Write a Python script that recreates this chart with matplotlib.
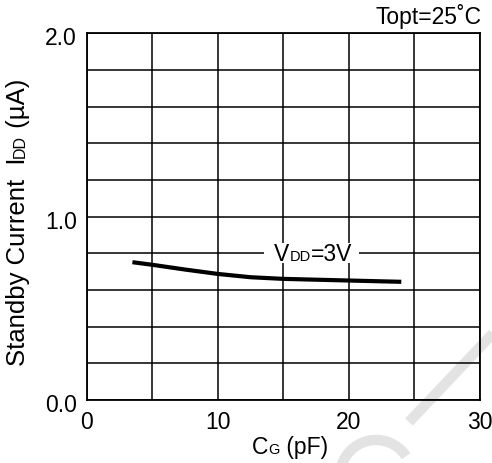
import numpy as np
import matplotlib
matplotlib.use("Agg")
import matplotlib.pyplot as plt
import matplotlib.transforms as mtransforms
from matplotlib.lines import Line2D
from matplotlib.patches import Arc

plt.rcParams['font.family'] = ['Liberation Sans', 'DejaVu Sans']

# data
cg_pf = [3.5, 5, 7.5, 10, 12.5, 15, 20, 24]
idd_ua = [0.752, 0.738, 0.712, 0.688, 0.670, 0.661, 0.652, 0.645]
x_ticks = [0, 10, 20, 30]
y_ticks = [0.0, 1.0, 2.0]

W, H = 492, 463
FS = 16.5
SUB = 10.5

fig = plt.figure(figsize=(W / 100, H / 100), dpi=100)
ax = fig.add_axes([86.5 / W, 1 - 400 / H, 393.5 / W, 366.5 / H])

ax.set_xlim(0, 30)
ax.set_ylim(0, 2.0)
xgrid = np.arange(0, 31, 5)
ygrid = np.arange(0, 2.01, 0.2)
ax.set_xticks(xgrid)
ax.set_yticks(ygrid)
ax.grid(True, color='black', linewidth=1.1, zorder=1)
ax.set_axisbelow(True)
ax.tick_params(length=0, labelsize=FS)
ax.set_xticklabels([str(t) if t in x_ticks else '' for t in xgrid])
ax.set_yticklabels([f'{t:.1f}' if round(t, 1) in y_ticks else '' for t in ygrid])
ax.tick_params(axis='x', pad=8)
ax.tick_params(axis='y', pad=7)
shift = mtransforms.ScaledTranslation(0, -3 / 100, fig.dpi_scale_trans)
for lbl in ax.get_yticklabels():
    lbl.set_transform(lbl.get_transform() + shift)
for sp in ax.spines.values():
    sp.set_linewidth(1.3)

ax.plot(cg_pf, idd_ua, color='black', linewidth=3.0, zorder=3,
        solid_capstyle='butt')


def chain(pieces, x, y, coords, vertical=False):
    prev = None
    for s, size in pieces:
        if prev is None:
            t = ax.text(x, y, s, transform=coords, fontsize=size,
                        rotation=90 if vertical else 0,
                        rotation_mode='anchor', ha='left', va='baseline',
                        zorder=5)
        elif vertical:
            t = ax.annotate(s, xy=(x, 1), xycoords=(coords, prev),
                            fontsize=size, rotation=90, rotation_mode='anchor',
                            ha='left', va='baseline', zorder=5)
        else:
            t = ax.annotate(s, xy=(1, y), xycoords=(prev, coords),
                            fontsize=size, ha='left', va='baseline', zorder=5)
        prev = t
    return prev


# axis labels with small-caps style subscripts on the baseline
chain([('C', FS), ('G', SUB), (' (pF)', FS)], 0.4206, -0.147, ax.transAxes)
chain([('Standby Current  I', 18.5), ('DD', 11.5), (' (\u00b5A)', 18.5)],
      -0.156, 0.092, ax.transAxes, vertical=True)

# curve label with white background over the grid
bg = plt.Rectangle((13.5, 0.745), 7.3, 0.11, facecolor='white',
                   edgecolor='none', zorder=2)
ax.add_patch(bg)
chain([('V', FS), ('DD', SUB), ('=3V', FS)], 14.3, 0.758, ax.transData)

ax.text(1.005, 1.026, 'Topt=25\u02daC', transform=ax.transAxes,
        fontsize=FS, ha='right', va='baseline')


# faint watermark strokes in the lower right corner
def fp(px, py):
    return px / W, 1 - py / H


x0, y0 = fp(409, 422)
x1, y1 = fp(500, 326)
wm = Line2D([x0, x1], [y0, y1], transform=fig.transFigure, color='#e3e3e3',
            linewidth=7.5, solid_capstyle='butt', zorder=0.5, clip_on=False)
ax.add_artist(wm)
cx, cy = fp(376, 476)
arc = Arc((cx, cy), 2 * 36 / W, 2 * 36 / H, theta1=35, theta2=160,
          transform=fig.transFigure, color='#e3e3e3', linewidth=7.5,
          zorder=0.5, clip_on=False)
ax.add_artist(arc)

fig.savefig('out.png', dpi=100)
